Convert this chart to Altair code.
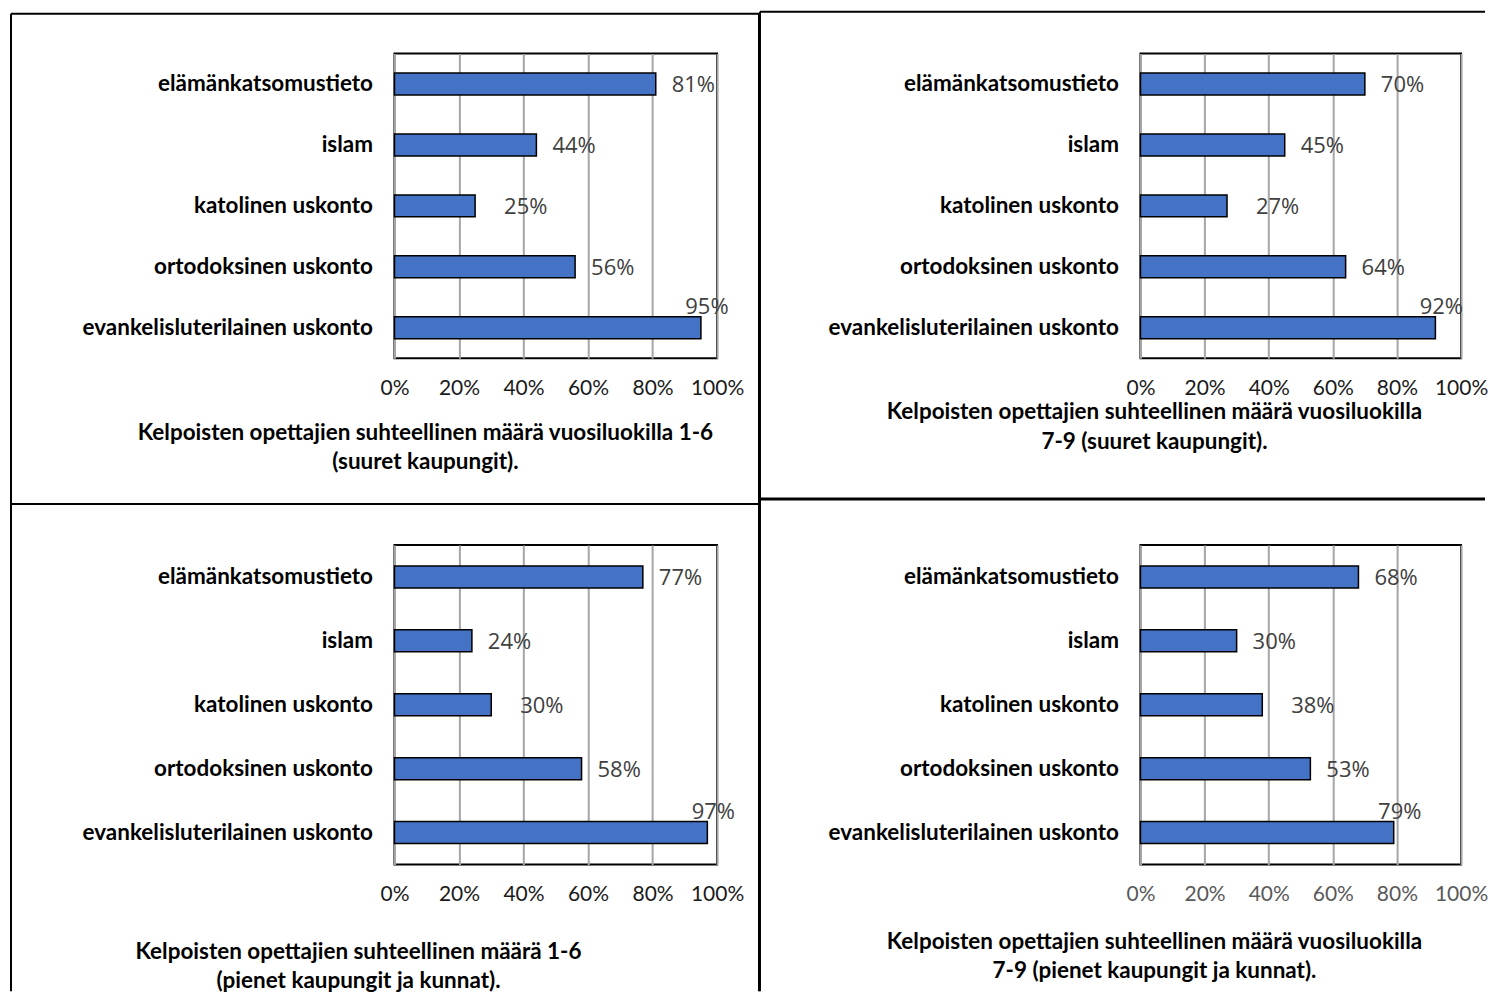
import altair as alt
import pandas as pd

# ---- data -------------------------------------------------------------
categories = [
    "elämänkatsomustieto",
    "islam",
    "katolinen uskonto",
    "ortodoksinen uskonto",
    "evankelisluterilainen uskonto",
]
values_p1 = [0.81, 0.44, 0.25, 0.56, 0.95]   # 1-6, suuret kaupungit
values_p2 = [0.70, 0.45, 0.27, 0.64, 0.92]   # 7-9, suuret kaupungit
values_p3 = [0.77, 0.24, 0.30, 0.58, 0.97]   # 1-6, pienet kaupungit ja kunnat
values_p4 = [0.68, 0.30, 0.38, 0.53, 0.79]   # 7-9, pienet kaupungit ja kunnat

title_p1 = ["Kelpoisten opettajien suhteellinen määrä vuosiluokilla 1-6",
            "(suuret kaupungit)."]
title_p2 = ["Kelpoisten opettajien suhteellinen määrä  vuosiluokilla",
            "7-9 (suuret kaupungit)."]
title_p3 = ["Kelpoisten opettajien suhteellinen määrä 1-6",
            "(pienet kaupungit ja kunnat)."]
title_p4 = ["Kelpoisten opettajien suhteellinen määrä vuosiluokilla",
            "7-9 (pienet kaupungit ja kunnat)."]

tick_values = [0, 0.2, 0.4, 0.6, 0.8, 1.0]

BAR = "#4472C4"
LABEL_GREY = "#404040"
ONE = alt.Data(values=[{"k": 1}])


def rule(x1, x2, y1, y2, w=2):
    return alt.Chart(ONE).mark_rule(color="black", strokeWidth=w).encode(
        x=alt.value(x1), x2=alt.value(x2), y=alt.value(y1), y2=alt.value(y2)
    )


def panel(values, title_lines, width, height, tick_color, tx, ty, lh,
          frame, pad_inner):
    df = pd.DataFrame({"kategoria": categories, "osuus": values})
    base = alt.Chart(df)
    x = alt.X(
        "osuus:Q",
        scale=alt.Scale(domain=[0, 1], nice=False, zero=True),
        axis=alt.Axis(
            values=tick_values, format=".0%", grid=True, gridColor="#A6A6A6",
            gridWidth=2, ticks=False, domain=False, labelFont="Lato",
            labelFontSize=21, labelColor=tick_color, labelPadding=19,
            labelFlush=False, title=None,
        ),
    )
    y = alt.Y(
        "kategoria:N", sort=categories,
        scale=alt.Scale(paddingInner=pad_inner, paddingOuter=pad_inner / 2),
        axis=alt.Axis(
            title=None, ticks=False, domain=False, labelFont="Lato",
            labelFontWeight="bold", labelFontSize=22.5, labelColor="black",
            labelPadding=22, labelLimit=0,
        ),
    )
    bars = base.mark_bar(color=BAR, stroke="black", strokeWidth=1.5).encode(x=x, y=y)

    txt = dict(font="Open Sans", fontSize=22, color=LABEL_GREY, baseline="middle")
    lab_a = base.transform_filter(
        alt.FieldOneOfPredicate(field="kategoria",
                                oneOf=[categories[0], categories[1], categories[3]])
    ).mark_text(align="left", dx=16, dy=1, **txt).encode(
        x=x, y=y, text=alt.Text("osuus:Q", format=".0%"))
    lab_b = base.transform_filter(
        alt.FieldEqualPredicate(field="kategoria", equal=categories[2])
    ).mark_text(align="left", dx=29, dy=1, **txt).encode(
        x=x, y=y, text=alt.Text("osuus:Q", format=".0%"))
    lab_c = base.transform_filter(
        alt.FieldEqualPredicate(field="kategoria", equal=categories[4])
    ).mark_text(align="center", dx=6, dy=-21, **txt).encode(
        x=x, y=y, text=alt.Text("osuus:Q", format=".0%"))

    title = alt.Chart(ONE).mark_text(
        text=title_lines, font="Lato", fontWeight="bold", fontSize=22.5,
        color="black", align="center", baseline="alphabetic", lineHeight=lh,
    ).encode(x=alt.value(tx), y=alt.value(ty))

    frames = [rule(*f) for f in frame]
    return alt.layer(bars, lab_a, lab_b, lab_c, title, *frames).properties(
        width=width, height=height
    )


p1 = panel(values_p1, title_p1, 323, 305, "#1a1a1a", 31, 387, 29,
           [(-384, 365, -40, -40), (-384, -384, -40, 451),
            (-384, 365, 451, 451), (365, 365, -40, 451)], 0.64)
p2 = panel(values_p2, title_p2, 321, 305, "#1a1a1a", 14, 366, 30,
           [(-381, 345, -42, -42), (-381, -381, -42, 446),
            (-381, 345, 446, 446, 3)], 0.64)
p3 = panel(values_p3, title_p3, 323, 320, "#1a1a1a", -36, 415, 29,
           [(-384, -384, -41, 447), (365, 365, -41, 447)], 0.656)
p4 = panel(values_p4, title_p4, 321, 320, "#595959", 14, 405, 29,
           [(-381, -381, -45, 447)], 0.656)

chart = alt.concat(
    p1, p2, p3, p4, columns=2, spacing={"row": 187, "column": 424},
    bounds="flush",
).properties(
    padding={"left": 1, "top": 1, "right": 0, "bottom": 0}
).configure_view(stroke="black", strokeWidth=2)

chart.save("out.html", embed_options={"renderer": "svg", "actions": False})
